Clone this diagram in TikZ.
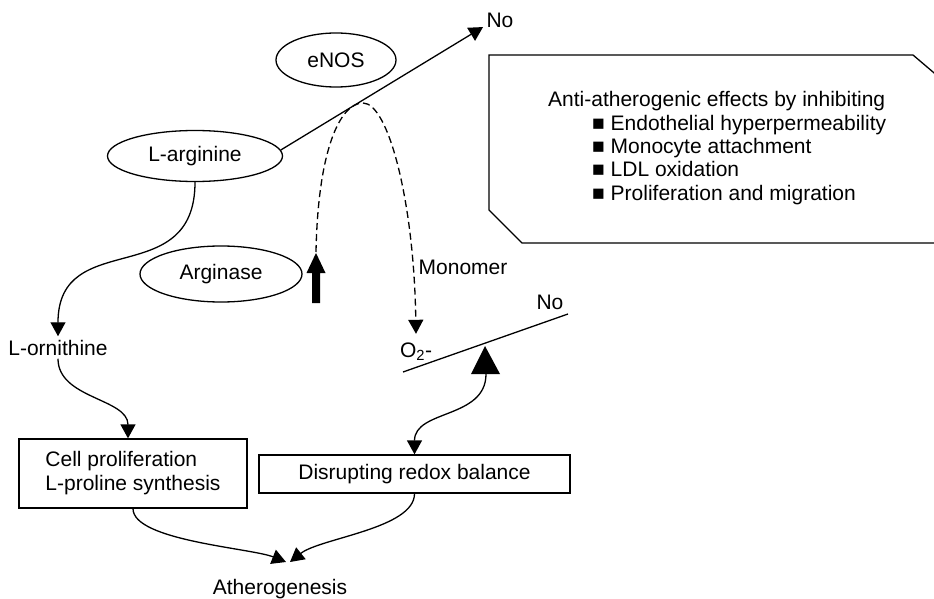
\documentclass[tikz,border=0pt]{standalone}
\usepackage{fontspec}
\setmainfont{Liberation Sans}
\usetikzlibrary{shapes.geometric}
\usetikzlibrary{arrows.meta, positioning}
\tikzset{
    enzyme/.style={draw, ellipse, line width=1.3pt, inner sep=0pt},
    stagebox/.style={draw, rectangle, line width=1.3pt, inner sep=0pt},
    link/.style={line width=1.3pt, -{Triangle[length=14pt, width=15pt]}},
    monomer link/.style={link, dash pattern=on 7pt off 4pt}
}
\def\effectsbox{(489,55) -- (913,55) -- (960,95) -- (960,243) -- (522,243) -- (489,210) -- cycle}
\def\upsymbol{(312,303) -- (320,303) -- (320,273) -- (325.5,273) -- (316,253) -- (306.5,273) -- (312,273) -- cycle}

\begin{document}
\begin{tikzpicture}[x=1pt, y=-1pt, font=\fontsize{21}{24}\selectfont]
    \useasboundingbox (0,0) rectangle (934,599);

    % Draw the enzymes and the substrates
    \node[enzyme, minimum width=120pt, minimum height=54pt] (enos) at (336,60) {eNOS};
    \node[enzyme, minimum width=175pt, minimum height=51pt] (larg) at (195,156) {L-arginine};
    \node[enzyme, minimum width=162pt, minimum height=56pt] (arginase) at (221,274) {Arginase};
    \node[anchor=base] (noTop) at (500,28) {No};
    \node[anchor=base] (lorn) at (58,355) {L-ornithine};
    \node[anchor=base] (monomer) at (463,274) {Monomer};
    \node[anchor=base] (o2) at (416,357) {O\textsubscript{2}-};
    \node[anchor=base] (noLow) at (550,309) {No};
    \node[anchor=base] (athero) at (280,594) {Atherogenesis};

    % Draw the two outcome boxes
    \node[stagebox, minimum width=228pt, minimum height=69pt, align=left] (cell) at (133,473.5) {Cell proliferation\\L-proline synthesis};
    \node[stagebox, minimum width=311pt, minimum height=38pt] (redox) at (414.5,474) {Disrupting redox balance};

    % Draw the box of anti-atherogenic effects, cut by the page
    \begin{scope}
        \clip (0,0) rectangle (934,599);
        \draw[line width=1.3pt] \effectsbox;
    \end{scope}
    \node[anchor=base west, inner sep=0pt] (antiHead) at (548,107) {Anti-atherogenic effects by inhibiting};
    \foreach \effect [count=\i] in {Endothelial hyperpermeability, Monocyte attachment, LDL oxidation, Proliferation and migration}
        \node[anchor=base west, inner sep=0pt] (anti\i) at (592,107+23.3*\i) {■ \effect};

    % Draw the arginase increase and the balance
    \fill \upsymbol;
    \coordinate (upTip) at (316,252);
    \draw[line width=1.3pt] (403,372) -- (568,314);
    \fill (485,346) -- (471,374) -- (500,374) -- cycle;
    \coordinate (pivot) at (486,374);
    \coordinate (joinL) at (286,562);
    \coordinate (joinR) at (290,562);

    % Draw the connectors
    \draw[link] (larg.4) -- (noTop.200);
    \draw[monomer link] (upTip) .. controls (318,150) and (340,103) .. (363,103)
        .. controls (388,103) and (414,200) .. ([yshift=5pt]o2.north);
    \draw[link] (larg.south) .. controls +(0,110) and +(0,-110) .. (lorn.north);
    \draw[link] (lorn.south) .. controls +(0,40) and +(0,-40) .. ([xshift=-5pt]cell.north);
    \draw[link] (pivot) .. controls +(0,45) and +(0,-45) .. (redox.north);
    \draw[link] (cell.south) .. controls +(0,32) and +(-35,-14) .. (joinL);
    \draw[link] (redox.south) .. controls +(0,35) and +(30,-24) .. (joinR);
\end{tikzpicture}
\end{document}
